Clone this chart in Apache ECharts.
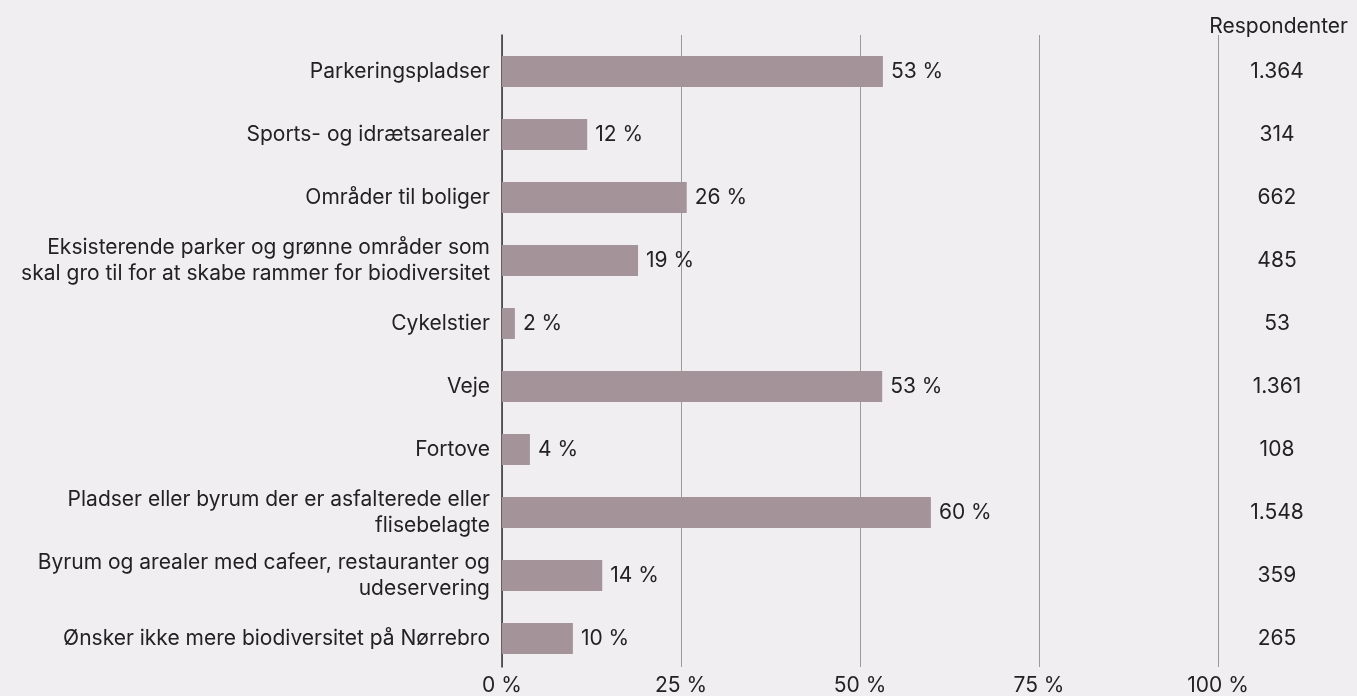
<!DOCTYPE html>
<html>
<head>
<meta charset="utf-8">
<script src="https://cdn.jsdelivr.net/npm/echarts@6/dist/echarts.min.js"></script>
<style>
  html, body { margin: 0; padding: 0; background: #f0eef1; }
  #chart { width: 1357px; height: 696px; }
</style>
</head>
<body>
<div id="chart"></div>
<script>
// categories (top to bottom)
var categories = [
  "Parkeringspladser",
  "Sports- og idrætsarealer",
  "Områder til boliger",
  "Eksisterende parker og grønne områder som\nskal gro til for at skabe rammer for biodiversitet",
  "Cykelstier",
  "Veje",
  "Fortove",
  "Pladser eller byrum der er asfalterede eller\nflisebelagte",
  "Byrum og arealer med cafeer, restauranter og\nudeservering",
  "Ønsker ikke mere biodiversitet på Nørrebro"
];
// share in percent
var shares = [53.2, 11.9, 25.8, 19.0, 1.8, 53.1, 3.9, 59.9, 14.0, 9.9];
// number of respondents
var respondents = ["1.364", "314", "662", "485", "53", "1.361", "108", "1.548", "359", "265"];
var xTicks = [0, 25, 50, 75, 100];

var font = "Inter, 'Noto Sans', sans-serif";
var textColor = "#222222";
var fs = 21;

var chart = echarts.init(document.getElementById("chart"));
var option = {
  backgroundColor: "#f0eef1",
  animation: false,
  textStyle: { fontFamily: font },
  title: {
    text: "Respondenter",
    right: 4,
    top: 11,
    textStyle: { fontFamily: font, fontSize: fs, fontWeight: "normal", color: textColor }
  },
  grid: [
    { left: 502, right: 139, top: 35, bottom: 28 },
    { left: 502, right: 139, top: 40, bottom: 26 }
  ],
  xAxis: [
    {
      gridIndex: 0, type: "value", min: xTicks[0], max: xTicks[xTicks.length - 1], interval: 25,
      axisLine: { show: false }, axisTick: { show: false },
      splitLine: { show: true, lineStyle: { color: "#9a9a9a", width: 1 } },
      axisLabel: { margin: 8, fontSize: fs, color: textColor, fontFamily: font,
        formatter: function (v) { return v + " %"; } }
    },
    {
      gridIndex: 1, type: "value", min: 0, max: 100, show: false
    }
  ],
  yAxis: [
    {
      gridIndex: 0, type: "category", data: categories, inverse: true,
      axisLine: { show: true, lineStyle: { color: "#333333", width: 1.5 } },
      axisTick: { show: false }, axisLabel: { show: false }
    },
    {
      gridIndex: 1, type: "category", data: categories, inverse: true,
      axisLine: { show: false }, axisTick: { show: false },
      axisLabel: { margin: 12, fontSize: fs, lineHeight: 26, color: textColor, fontFamily: font, align: "right" }
    },
    {
      gridIndex: 1, type: "category", data: respondents, inverse: true, position: "right",
      axisLine: { show: false }, axisTick: { show: false },
      axisLabel: { margin: 59, fontSize: fs, color: textColor, fontFamily: font, align: "center" }
    }
  ],
  series: [
    {
      type: "bar",
      xAxisIndex: 1,
      yAxisIndex: 1,
      data: shares,
      barWidth: 31,
      itemStyle: { color: "#a4949a" },
      label: {
        show: true,
        position: "right",
        distance: 8,
        fontSize: fs,
        color: textColor,
        fontFamily: font,
        formatter: function (p) { return Math.round(p.value) + " %"; }
      }
    }
  ]
};
chart.setOption(option);
window.addEventListener("resize", function () { chart.resize(); });
</script>
</body>
</html>
